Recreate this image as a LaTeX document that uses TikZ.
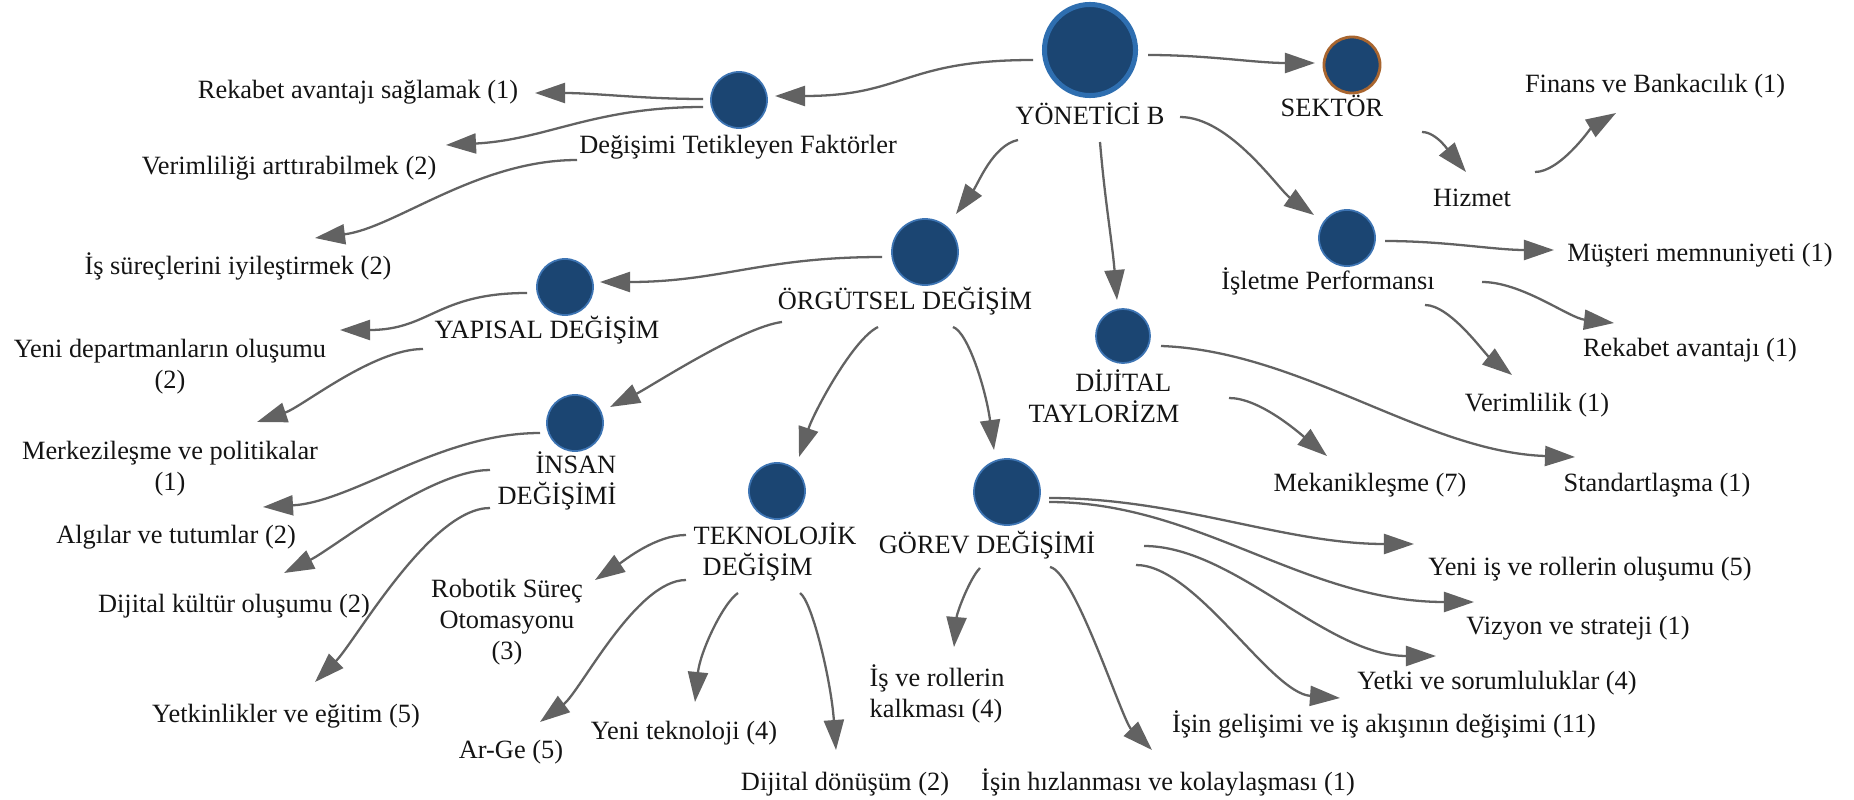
\documentclass[tikz,border=0pt]{standalone}
\usepackage{fontspec}
\setmainfont{Liberation Serif}
\usetikzlibrary{arrows.meta}
\definecolor{navy}{HTML}{1B4572}
\definecolor{ringblue}{HTML}{2E6EB0}
\definecolor{rimblue}{HTML}{3D74B3}
\definecolor{rust}{HTML}{A8652F}
\definecolor{wire}{HTML}{626262}
\definecolor{ink}{HTML}{141414}
\begin{document}
\begin{tikzpicture}[x=0.01cm, y=-0.01cm,
  every node/.style={font=\fontsize{7.5pt}{8.9pt}\selectfont, text=ink},
  hub/.style={circle, fill=navy, draw=ringblue, line width=0.05cm, minimum size=0.91cm, inner sep=0pt},
  dot/.style={circle, fill=navy, draw=rimblue, line width=0.5pt, minimum size=0.56cm, inner sep=0pt},
  bigdot/.style={dot, minimum size=0.66cm},
  lbl/.style={inner sep=0.02cm, text height=0.19cm, text depth=0.063cm},
  mlbl/.style={inner sep=0.02cm},
  link/.style={draw=wire, line width=0.65pt, -{Triangle[length=0.3cm, width=0.2cm]}}
]
\fill[white] (0,0) rectangle (1854,800);
\useasboundingbox (0,0) rectangle (1854,800);

% hubs and their captions
\node[hub] (y) at (1090,50) {};
\node[lbl] (yl) at (1090,118) {YÖNETİCİ B};
\node[dot, draw=rust, line width=0.8pt] (sek) at (1352,65) {};
\node[lbl] (sekl) at (1332,110) {SEKTÖR};
\node[dot] (dtf) at (739,100) {};
\node[lbl] (dtfl) at (738,147) {Değişimi Tetikleyen Faktörler};
\node[bigdot] (org) at (925,252) {};
\node[lbl] (orgl) at (905,303) {ÖRGÜTSEL DEĞİŞİM};
\node[dot] (yap) at (565,287) {};
\node[lbl] (yapl) at (547,332) {YAPISAL DEĞİŞİM};
\node[dot] (ins) at (575,423) {};
\node[mlbl, align=right, anchor=east] (insl) at (619,481) {İNSAN\\DEĞİŞİMİ};
\node[dot] (tek) at (777,491) {};
\node[mlbl, align=left, anchor=west] (tekl) at (691,552) {TEKNOLOJİK\\\hspace*{0.09cm}DEĞİŞİM};
\node[bigdot] (gor) at (1007,492) {};
\node[lbl] (gorl) at (987,547) {GÖREV DEĞİŞİMİ};
\node[dot, minimum size=0.54cm] (dt) at (1123,336) {};
\node[mlbl, align=right, anchor=east] (dtl) at (1182,396) {DİJİTAL\hspace*{0.08cm}\\TAYLORİZM};
\node[dot] (ip) at (1347,238) {};
\node[lbl] (ipl) at (1328,283) {İşletme Performansı};

% leaf texts
\node[lbl] (hiz) at (1472,200) {Hizmet};
\node[lbl] (fin) at (1655,86) {Finans ve Bankacılık (1)};
\node[lbl] (mus) at (1700,255) {Müşteri memnuniyeti (1)};
\node[lbl] (rek2) at (1690,350) {Rekabet avantajı (1)};
\node[lbl] (ver2) at (1537,405) {Verimlilik (1)};
\node[lbl] (mek) at (1370,485) {Mekanikleşme (7)};
\node[lbl] (std) at (1657,485) {Standartlaşma (1)};
\node[lbl] (yir) at (1590,569) {Yeni iş ve rollerin oluşumu (5)};
\node[lbl] (viz) at (1578,628) {Vizyon ve strateji (1)};
\node[lbl] (yet) at (1497,683) {Yetki ve sorumluluklar (4)};
\node[lbl] (igel) at (1384,726) {İşin gelişimi ve iş akışının değişimi (11)};
\node[lbl] (ihiz) at (1168,784) {İşin hızlanması ve kolaylaşması (1)};
\node[mlbl, align=left, anchor=west] (ikal) at (867,694) {İş ve rollerin\\kalkması (4)};
\node[lbl] (ddon) at (845,784) {Dijital dönüşüm (2)};
\node[lbl] (ytek) at (684,733) {Yeni teknoloji (4)};
\node[lbl] (arge) at (511,752) {Ar-Ge (5)};
\node[mlbl, align=center] (rob) at (507,622) {Robotik Süreç\\Otomasyonu\\(3)};
\node[lbl] (yetk) at (286,716) {Yetkinlikler ve eğitim (5)};
\node[lbl] (dkul) at (234,606) {Dijital kültür oluşumu (2)};
\node[lbl] (alg) at (176,537) {Algılar ve tutumlar (2)};
\node[mlbl, align=center] (merk) at (170,469) {Merkezileşme ve politikalar\\(1)};
\node[mlbl, align=center] (ydep) at (170,367) {Yeni departmanların oluşumu\\(2)};
\node[lbl] (iss) at (238,268) {İş süreçlerini iyileştirmek (2)};
\node[lbl] (verim) at (289,168) {Verimliliği arttırabilmek (2)};
\node[lbl] (rek1) at (358,92) {Rekabet avantajı sağlamak (1)};

% top level
\draw[link] ([shift={(-57,10)}]y.center) .. controls +(-130,0) and +(130,0) .. ([shift={(36,-4)}]dtf.center);
\draw[link] ([shift={(58,5)}]y.center) .. controls +(60,0) and +(-60,0) .. ([shift={(-37,-2)}]sek.center);
\draw[link] ([shift={(-72,22)}]yl.center) .. controls +(-25,5) and +(22,-30) .. ([shift={(31,-38)}]org.center);
\draw[link] ([shift={(10,24)}]yl.center) .. controls +(5,60) and +(-5,-60) .. ([shift={(-6,-36)}]dt.center);
\draw[link] ([shift={(90,-1)}]yl.center) .. controls +(50,0) and +(-35,-25) .. ([shift={(-33,-23)}]ip.center);

% sector
\draw[link] ([shift={(90,22)}]sekl.center) .. controls +(15,0) and +(-15,-18) .. ([shift={(-6,-28)}]hiz.center);
\draw[link] ([shift={(63,-28)}]hiz.center) .. controls +(25,0) and +(-25,15) .. ([shift={(-39,27)}]fin.center);

% business performance
\draw[link] ([shift={(38,3)}]ip.center) .. controls +(60,0) and +(-60,0) .. ([shift={(-146,-5)}]mus.center);
\draw[link] ([shift={(154,-1)}]ipl.center) .. controls +(40,0) and +(-45,-5) .. ([shift={(-76,-27)}]rek2.center);
\draw[link] ([shift={(97,22)}]ipl.center) .. controls +(25,0) and +(-28,-22) .. ([shift={(-25,-30)}]ver2.center);

% digital taylorism
\draw[link] ([shift={(38,10)}]dt.center) .. controls +(140,5) and +(-150,-5) .. ([shift={(-82,-28)}]std.center);
\draw[link] ([shift={(47,2)}]dtl.east) .. controls +(30,0) and +(-30,-25) .. ([shift={(-43,-29)}]mek.center);

% organisational change
\draw[link] ([shift={(-43,5)}]org.center) .. controls +(-120,0) and +(120,0) .. ([shift={(35,-5)}]yap.center);
\draw[link] ([shift={(-123,19)}]orgl.center) .. controls +(-40,5) and +(40,-20) .. ([shift={(35,-16)}]ins.center);
\draw[link] ([shift={(-27,24)}]orgl.center) .. controls +(-25,12) and +(15,-45) .. ([shift={(22,-34)}]tek.center);
\draw[link] ([shift={(48,24)}]orgl.center) .. controls +(15,5) and +(-8,-60) .. ([shift={(-13,-42)}]gor.center);

% triggering factors
\draw[link] ([shift={(-36,-1)}]dtf.center) .. controls +(-60,0) and +(60,0) .. ([shift={(177,1)}]rek1.center);
\draw[link] ([shift={(-36,7)}]dtf.center) .. controls +(-110,0) and +(100,-5) .. ([shift={(157,-23)}]verim.center);
\draw[link] ([shift={(-161,13)}]dtfl.center) .. controls +(-100,0) and +(80,-10) .. ([shift={(77,-30)}]iss.center);

% structural change
\draw[link] ([shift={(-38,6)}]yap.center) .. controls +(-90,0) and +(90,0) .. ([shift={(170,-37)}]ydep.center);
\draw[link] ([shift={(-124,17)}]yapl.center) .. controls +(-50,0) and +(45,-15) .. ([shift={(87,-47)}]merk.center);

% human change
\draw[link] ([shift={(-35,10)}]ins.center) .. controls +(-100,0) and +(90,-5) .. ([shift={(87,-30)}]alg.center);
\draw[link] ([shift={(-129,-11)}]insl.east) .. controls +(-60,0) and +(50,-25) .. ([shift={(50,-33)}]dkul.center);
\draw[link] ([shift={(-129,27)}]insl.east) .. controls +(-60,0) and +(40,-40) .. ([shift={(29,-34)}]yetk.center);

% technological change
\draw[link] ([shift={(-5,-17)}]tekl.west) .. controls +(-30,0) and +(30,-20) .. ([shift={(88,-42)}]rob.center);
\draw[link] ([shift={(-5,28)}]tekl.west) .. controls +(-50,0) and +(40,-30) .. ([shift={(29,-30)}]arge.center);
\draw[link] ([shift={(47,41)}]tekl.west) .. controls +(-15,10) and +(5,-50) .. ([shift={(11,-31)}]ytek.center);
\draw[link] ([shift={(109,41)}]tekl.west) .. controls +(12,8) and +(-5,-70) .. ([shift={(-9,-34)}]ddon.center);

% task change
\draw[link] ([shift={(-7,21)}]gorl.center) .. controls +(-10,10) and +(3,-35) .. ([shift={(87,-47)}]ikal.west);
\draw[link] ([shift={(63,20)}]gorl.center) .. controls +(25,5) and +(-30,-30) .. ([shift={(-16,-34)}]ihiz.center);
\draw[link] ([shift={(42,6)}]gor.center) .. controls +(130,0) and +(-130,0) .. ([shift={(-176,-25)}]yir.center);
\draw[link] ([shift={(42,10)}]gor.center) .. controls +(150,0) and +(-170,0) .. ([shift={(-104,-26)}]viz.center);
\draw[link] ([shift={(157,-1)}]gorl.center) .. controls +(90,0) and +(-110,0) .. ([shift={(-61,-27)}]yet.center);
\draw[link] ([shift={(149,18)}]gorl.center) .. controls +(60,0) and +(-70,-5) .. ([shift={(-44,-28)}]igel.center);
\end{tikzpicture}
\end{document}
